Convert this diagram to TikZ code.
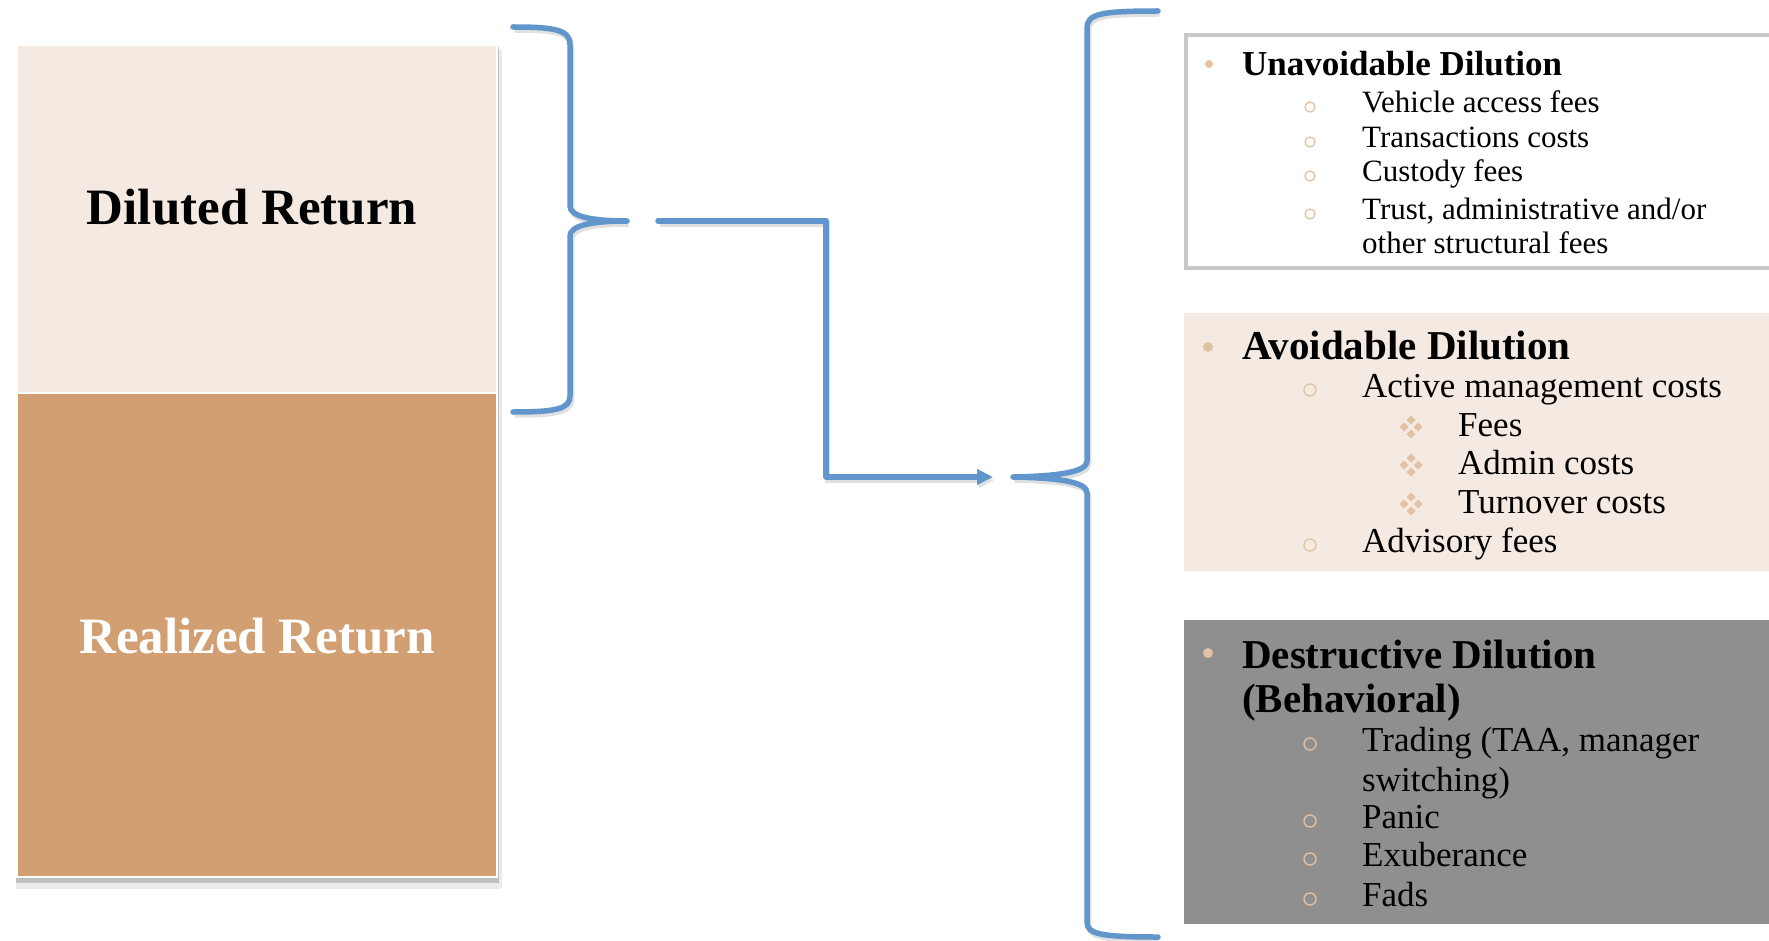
\documentclass[tikz,border=0pt]{standalone}
\usepackage{fontspec}
\setmainfont{Liberation Serif}
\usetikzlibrary{arrows.meta}

\definecolor{paletan}{HTML}{F4EAE1}
\definecolor{darktan}{HTML}{D19F72}
\definecolor{boxgray}{HTML}{8F8F8F}
\definecolor{linkblue}{HTML}{6096CB}
\definecolor{dottan}{HTML}{E2C2A5}
\definecolor{framegray}{HTML}{C8C8C8}

\begin{document}
\begin{tikzpicture}[x=1pt,y=-1pt]
    \tikzset{
        bluebar/.style={draw=linkblue,line width=5.5pt,line cap=round,line join=round,
            preaction={draw=black!12,line width=5.5pt,transform canvas={shift={(1.5pt,-3pt)}}}},
        panel/.style={anchor=north west,inner sep=0pt,outer sep=0pt},
        bigtxt/.style={anchor=base,inner sep=0pt,font=\bfseries\fontsize{51}{51}\selectfont},
        hdtxt/.style={anchor=base west,inner sep=0pt,font=\bfseries\fontsize{41}{41}\selectfont},
        subtxt/.style={anchor=base west,inner sep=0pt,font=\fontsize{35}{35}\selectfont},
        ring/.style={draw=dottan,line width=1.3pt},
    }
    \useasboundingbox (0,0) rectangle (1769,941);
    \clip (0,0) rectangle (1769,941);

    % left column
    \fill[black!8] (16,50) rectangle (502,889);
    \fill[black!25] (16,47) rectangle (499,883);
    \node[panel,fill=paletan,draw=white,line width=1.5pt,minimum width=480pt,minimum height=348pt] (diluted) at (17,45) {};
    \node[panel,fill=darktan,draw=white,line width=1.5pt,minimum width=480pt,minimum height=484pt] (realized) at (17,393) {};
    \node[bigtxt] (dilutedtxt) at (252,225) {Diluted Return};
    \node[bigtxt,text=white] (realizedtxt) at (257,653) {Realized Return};

    % braces
    \draw[bluebar] (513,27) .. controls (556,27) and (570,30) .. (570,45) -- (570,206)
        .. controls (570,216) and (590,221) .. (627,221) coordinate (ltip)
        .. controls (590,221) and (570,226) .. (570,236) -- (570,396)
        .. controls (570,409) and (556,412) .. (513,412);
    \draw[bluebar] (1158,11) .. controls (1100,11) and (1087,14) .. (1087,28) -- (1087,461)
        .. controls (1087,472) and (1060,476) .. (1013,477) coordinate (rtip)
        .. controls (1060,478) and (1087,482) .. (1087,493) -- (1087,922)
        .. controls (1087,934) and (1100,937) .. (1158,937);

    % link between the braces
    \coordinate (cstart) at (658,221);
    \coordinate (cend) at (993,477);
    \draw[bluebar,-{Triangle[length=16pt,width=15pt]}] (cstart) -- (826,221) |- (cend);

    % right panels
    \node[panel,draw=framegray,line width=4pt,fill=white,minimum width=630pt,minimum height=233pt] (unavoid) at (1186,35) {};
    \node[panel,fill=paletan,minimum width=630pt,minimum height=258pt] (avoid) at (1184,313) {};
    \node[panel,fill=boxgray,minimum width=630pt,minimum height=304pt] (destruct) at (1184,620) {};

    % unavoidable
    \fill[dottan] (1209,64) circle[radius=4];
    \node[hdtxt,font=\bfseries\fontsize{35}{35}\selectfont] (unavoidhd) at (1242,76) {Unavoidable Dilution};
    \foreach \y/\t in {113/Vehicle access fees,148/Transactions costs,182/Custody fees,220/{Trust, administrative and/or}}{
        \draw[ring] (1310,\y-6) circle[radius=5];
        \node[subtxt,font=\fontsize{31}{31}\selectfont] (u\y) at (1362,\y) {\t};
    }
    \node[subtxt,font=\fontsize{31}{31}\selectfont] (u254) at (1362,254) {other structural fees};

    % avoidable
    \fill[dottan] (1208,347) circle[radius=5];
    \node[hdtxt] (avoidhd) at (1242,359) {Avoidable Dilution};
    \foreach \y/\t in {397/Active management costs,552/Advisory fees}{
        \draw[ring] (1310,\y-7) circle[radius=6];
        \node[subtxt] (a\y) at (1362,\y) {\t};
    }
    \foreach \y/\t in {436/Fees,474/Admin costs,513/Turnover costs}{
        \foreach \a in {0,90,180,270}
            \fill[dottan,shift={(1411,\y-9)},rotate=\a] (2.5,0) -- (7,4.5) -- (11.5,0) -- (7,-4.5) -- cycle;
        \node[subtxt] (a\y) at (1458,\y) {\t};
    }

    % destructive
    \fill[dottan] (1208,653) circle[radius=5];
    \node[hdtxt] (destructhd) at (1242,668) {Destructive Dilution};
    \node[hdtxt] (behavhd) at (1242,712) {(Behavioral)};
    \foreach \y/\t in {751/{Trading (TAA, manager},828/Panic,866/Exuberance,906/Fads}{
        \draw[ring] (1310,\y-7) circle[radius=6];
        \node[subtxt] (d\y) at (1362,\y) {\t};
    }
    \node[subtxt] (d791) at (1362,791) {switching)};
\end{tikzpicture}
\end{document}
